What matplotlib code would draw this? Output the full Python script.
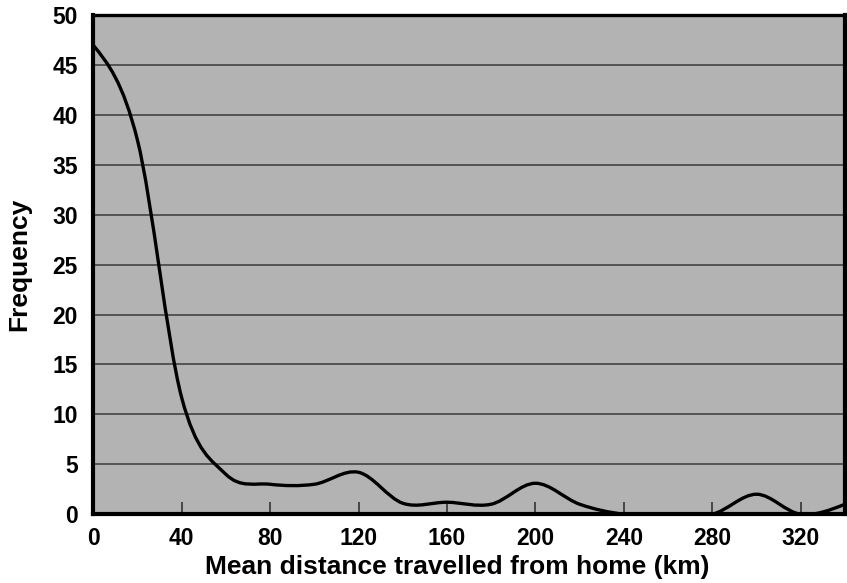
import numpy as np
import matplotlib
matplotlib.use("Agg")
import matplotlib.pyplot as plt
from matplotlib.path import Path
from matplotlib.patches import PathPatch

distance_km = [0, 20, 40, 60, 80, 100, 120, 140, 160, 180, 200, 220, 240, 260, 280,
               300, 320, 340]
frequency = [47, 37.5, 11.7, 4, 3, 3, 4.2, 1.1, 1.2, 1, 3.1, 1, 0, 0, 0,
             2, 0, 1]
x_ticks = [0, 40, 80, 120, 160, 200, 240, 280, 320]
y_ticks = [0, 5, 10, 15, 20, 25, 30, 35, 40, 45, 50]

plt.rcParams['font.family'] = ['Liberation Sans', 'DejaVu Sans']

fig = plt.figure(figsize=(8.47, 5.83), dpi=100)
ax = fig.add_axes([0.110, 0.118, 0.8876, 0.856])
ax.set_facecolor('#b3b3b3')

# smoothed line (Excel-style Bezier through the data points)
x = np.array(distance_km, dtype=float)
y = np.array(frequency, dtype=float)
pts = np.column_stack([x, y])
n = len(pts)
verts = [tuple(pts[0])]
codes = [Path.MOVETO]
for i in range(n - 1):
    p1, p2 = pts[i], pts[i + 1]
    c1 = p1 + (p2 - pts[i - 1]) / 6.0 if i > 0 else None
    c2 = p2 - (pts[i + 2] - p1) / 6.0 if i + 2 < n else None
    if c1 is None:
        c1 = (p1 + c2) / 2.0
    if c2 is None:
        c2 = (p2 + c1) / 2.0
    verts += [tuple(c1), tuple(c2), tuple(p2)]
    codes += [Path.CURVE4] * 3
patch = PathPatch(Path(verts, codes), facecolor='none', edgecolor='black', lw=2.4,
                  zorder=3, clip_on=True)
ax.add_patch(patch)

ax.set_xlim(0, 340)
ax.set_ylim(0, 50)
ax.set_xticks(x_ticks)
ax.set_yticks(y_ticks)
ax.yaxis.grid(True, color='#3a3a3a', lw=1.1)
ax.set_axisbelow(True)
ax.tick_params(axis='x', direction='in', length=9, width=1.2, color='#333333',
               labelsize=16.5, pad=9)
ax.tick_params(axis='y', length=0, labelsize=16.5, pad=11)
for lab in ax.get_xticklabels() + ax.get_yticklabels():
    lab.set_fontweight('bold')

for side in ['left', 'bottom', 'right']:
    ax.spines[side].set_linewidth(3)
ax.spines['top'].set_linewidth(2.4)
for s in ax.spines.values():
    s.set_color('black')
    s.set_zorder(4)

ax.set_xlabel('Mean distance travelled from home (km)', fontsize=19, fontweight='bold')
ax.xaxis.set_label_coords(0.484, -0.082)
ax.set_ylabel('Frequency', fontsize=19, fontweight='bold', labelpad=15)

fig.savefig('out.png', dpi=100)
